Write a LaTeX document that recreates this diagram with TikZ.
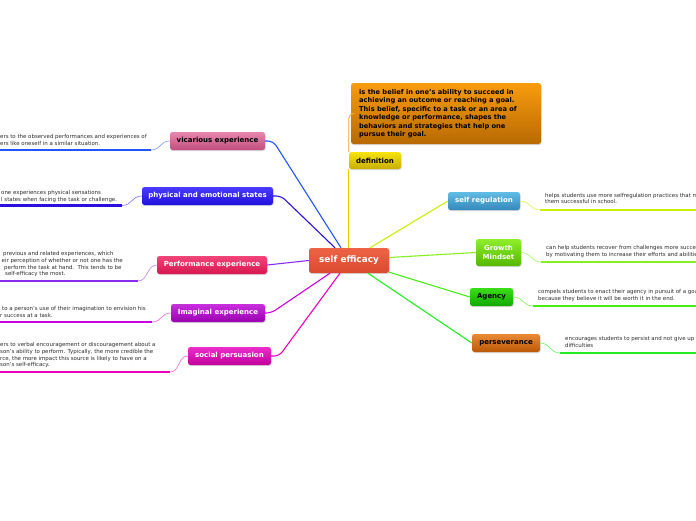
\documentclass[tikz,border=0pt]{standalone}
\usepackage{fontspec}
\setmainfont{DejaVu Sans}
\usetikzlibrary{shadows,calc}
\definecolor{txt}{HTML}{2A2A2A}
\definecolor{cvic}{HTML}{2255FF}
\definecolor{cphy}{HTML}{2A10E0}
\definecolor{cper}{HTML}{8A2BEE}
\definecolor{cima}{HTML}{CC00DD}
\definecolor{csoc}{HTML}{EE00BB}
\definecolor{cdef}{HTML}{F0CC00}
\definecolor{cdefo}{HTML}{F0A020}
\definecolor{creg}{HTML}{CCEE00}
\definecolor{cgro}{HTML}{88EE22}
\definecolor{cage}{HTML}{44EE11}
\definecolor{cpsv}{HTML}{22EE22}
% gradient colours
\definecolor{gseA}{HTML}{EE6345}\definecolor{gseB}{HTML}{DA4A30}
\definecolor{gdbA}{HTML}{F89C0E}\definecolor{gdbB}{HTML}{B86A02}
\definecolor{gdfA}{HTML}{F6E40A}\definecolor{gdfB}{HTML}{C8AE00}
\definecolor{gviA}{HTML}{E886B0}\definecolor{gviB}{HTML}{C24F7E}
\definecolor{gphA}{HTML}{4A3AFF}\definecolor{gphB}{HTML}{2010DD}
\definecolor{gpeA}{HTML}{F2457A}\definecolor{gpeB}{HTML}{D81650}
\definecolor{gimA}{HTML}{C830DD}\definecolor{gimB}{HTML}{9A00B0}
\definecolor{gsoA}{HTML}{EE2ECC}\definecolor{gsoB}{HTML}{C0009A}
\definecolor{greA}{HTML}{62BDE6}\definecolor{greB}{HTML}{3388BB}
\definecolor{ggrA}{HTML}{8EEE2A}\definecolor{ggrB}{HTML}{55B800}
\definecolor{gagA}{HTML}{3ADE18}\definecolor{gagB}{HTML}{12A800}
\definecolor{gpsA}{HTML}{EA8A36}\definecolor{gpsB}{HTML}{BB5806}
\tikzset{
  topic/.style={rounded corners=2.5pt, inner sep=0pt, minimum height=18pt,
    font=\bfseries\fontsize{7}{8.4}\selectfont, align=center,
    drop shadow={shadow xshift=0.6pt, shadow yshift=-1pt, opacity=0.3}},
  grad/.style 2 args={top color=#1, bottom color=#2},
  small/.style={anchor=north west, inner sep=0pt, align=left,
    font=\fontsize{5.45}{6.7}\selectfont, text=txt},
  conn/.style={line width=1.1pt, rounded corners=5pt},
  thinc/.style={line width=0.6pt},
  uline/.style={line width=2.4pt},
}
\begin{document}
\begin{tikzpicture}[x=1pt,y=-1pt]
\useasboundingbox (0,0) rectangle (696,520);
\clip (0,0) rectangle (696,520);

% central node
\node[topic, grad={gseA}{gseB}, text=white, minimum width=80pt, minimum height=25pt,
  font=\bfseries\fontsize{8.9}{10}\selectfont] (se) at (349,260.5) {self efficacy};

% definition
\node[topic, grad={gdbA}{gdbB}, minimum width=190pt, minimum height=61pt] (defbox) at (446,113.5) {};
\node[anchor=north west, inner sep=0pt, align=left, font=\bfseries\fontsize{6.65}{8.4}\selectfont] (deftext) at (359,89.2)
 {is the belief in one’s ability to succeed in\\achieving an outcome or reaching a goal.\\This belief, specific to a task or an area of\\knowledge or performance, shapes the\\behaviors and strategies that help one\\pursue their goal.};
\node[topic, grad={gdfA}{gdfB}, minimum width=52pt, minimum height=17pt] (def) at (375,160.5) {definition};

% left topics
\node[topic, grad={gviA}{gviB}, text=black, minimum width=95pt] (vic) at (217.5,141) {vicarious experience};
\node[topic, grad={gphA}{gphB}, text=white, minimum width=131pt] (phy) at (207.5,196) {physical and emotional states};
\node[topic, grad={gpeA}{gpeB}, text=white, minimum width=110pt] (per) at (212,265) {Performance experience};
\node[topic, grad={gimA}{gimB}, text=white, minimum width=94pt] (ima) at (218,313) {Imaginal experience};
\node[topic, grad={gsoA}{gsoB}, text=white, minimum width=83pt] (soc) at (229.5,356) {social persuasion};

% right topics
\node[topic, grad={greA}{greB}, text=white, minimum width=72pt] (reg) at (484,201) {self regulation};
\node[topic, grad={ggrA}{ggrB}, text=white, minimum width=45pt, minimum height=27pt] (gro) at (498.5,252.5) {Growth\\Mindset};
\node[topic, grad={gagA}{gagB}, text=black, minimum width=43pt] (age) at (491.5,297) {Agency};
\node[topic, grad={gpsA}{gpsB}, text=black, minimum width=68pt] (psv) at (506,343) {perseverance};

% connectors from centre
\draw[conn, cvic] (vic.east) -- ++(8,0) -- ($(se.north)+(-8,0)$);
\draw[conn, cphy] (phy.east) -- ++(8,0) -- ($(se.north)+(-14,0)$);
\draw[conn, cper] (per.east) -- (se.west);
\draw[conn, cima] (ima.east) -- ++(6,0) -- ($(se.south)+(-19,0)$);
\draw[conn, csoc] (soc.east) -- ++(8,0) -- ($(se.south)+(-9,0)$);
\draw[conn, cdefo, line width=0.8pt] (defbox.west) -| (def.north west);
\draw[conn, cdef] (def.south west) -- (def.south west |- se.north);
\draw[conn, creg] ($(se.north)+(21,0)$) -- (reg.west);
\draw[conn, cgro] ($(se.east)+(0,-3)$) -- (gro.west);
\draw[conn, cage] ($(se.south east)+(0,-1)$) -- (age.west);
\draw[conn, cpsv] ($(se.south)+(19,0)$) -- (psv.west);

% left texts
\coordinate (u1) at (151,150);
\coordinate (u2) at (122,205.5);
\coordinate (u3) at (138,281);
\coordinate (u4) at (152,322);
\coordinate (u5) at (170,372);
\node[small] (t1) at (0,134.4) {ers to the observed performances and experiences of\\ers like oneself in a similar situation.};
\node[small] (t2) at (1,190.2) {one experiences physical sensations\\l states when facing the task or challenge.};
\node[small] (t3) at (0,251.4) {\hspace*{3pt}previous and related experiences, which\\\hspace*{1.5pt}eir perception of whether or not one has the\\\hspace*{4pt}perform the task at hand.\ \ This tends to be\\\hspace*{5pt}self-efficacy the most.};
\node[small] (t4) at (0,306.4) {\hspace*{2pt}to a person’s use of their imagination to envision his\\r success at a task.};
\node[small] (t5) at (0,342.4) {ers to verbal encouragement or discouragement about a\\son’s ability to perform. Typically, the more credible the\\rce, the more impact this source is likely to have on a\\son’s self-efficacy.};
\draw[uline, cvic] (u1) -- ++(-160,0);
\draw[uline, cphy] (u2) -- ++(-160,0);
\draw[uline, cper] (u3) -- ++(-160,0);
\draw[uline, cima] (u4) -- ++(-160,0);
\draw[uline, csoc] (u5) -- ++(-180,0);
\draw[thinc, cvic!60] (vic.west) .. controls +(-10,0) and +(10,0) .. (u1);
\draw[thinc, cphy!60] (phy.west) .. controls +(-10,0) and +(10,0) .. (u2);
\draw[thinc, cper!60] (per.west) .. controls +(-10,0) and +(10,0) .. (u3);
\draw[thinc, cima!60] (ima.west) .. controls +(-10,0) and +(10,0) .. (u4);
\draw[thinc, csoc!60] (soc.west) .. controls +(-10,0) and +(10,0) .. (u5);

% right texts
\coordinate (r1) at (540,210);
\coordinate (r2) at (541,262);
\coordinate (r3) at (533,306);
\coordinate (r4) at (560,353);
\node[small] (s1) at (545,192.7) {helps students use more selfregulation practices that make\\them successful in school.};
\node[small] (s2) at (546,245.4) {can help students recover from challenges more successfully\\by motivating them to increase their efforts and abilities.};
\node[small] (s3) at (538,289.4) {compels students to enact their agency in pursuit of a goal\\because they believe it will be worth it in the end.};
\node[small] (s4) at (565,336.4) {encourages students to persist and not give up in the face of\\difficulties};
\draw[uline, creg] (r1) -- ++(170,0);
\draw[uline, cgro] (r2) -- ++(170,0);
\draw[uline, cage] (r3) -- ++(170,0);
\draw[uline, cpsv] (r4) -- ++(170,0);
\draw[thinc, creg!70] (reg.east) .. controls +(10,0) and +(-10,0) .. (r1);
\draw[thinc, cgro!70] (gro.east) .. controls +(10,0) and +(-10,0) .. (r2);
\draw[thinc, cage!70] (age.east) .. controls +(10,0) and +(-10,0) .. (r3);
\draw[thinc, cpsv!70] (psv.east) .. controls +(10,0) and +(-10,0) .. (r4);
\end{tikzpicture}
\end{document}
